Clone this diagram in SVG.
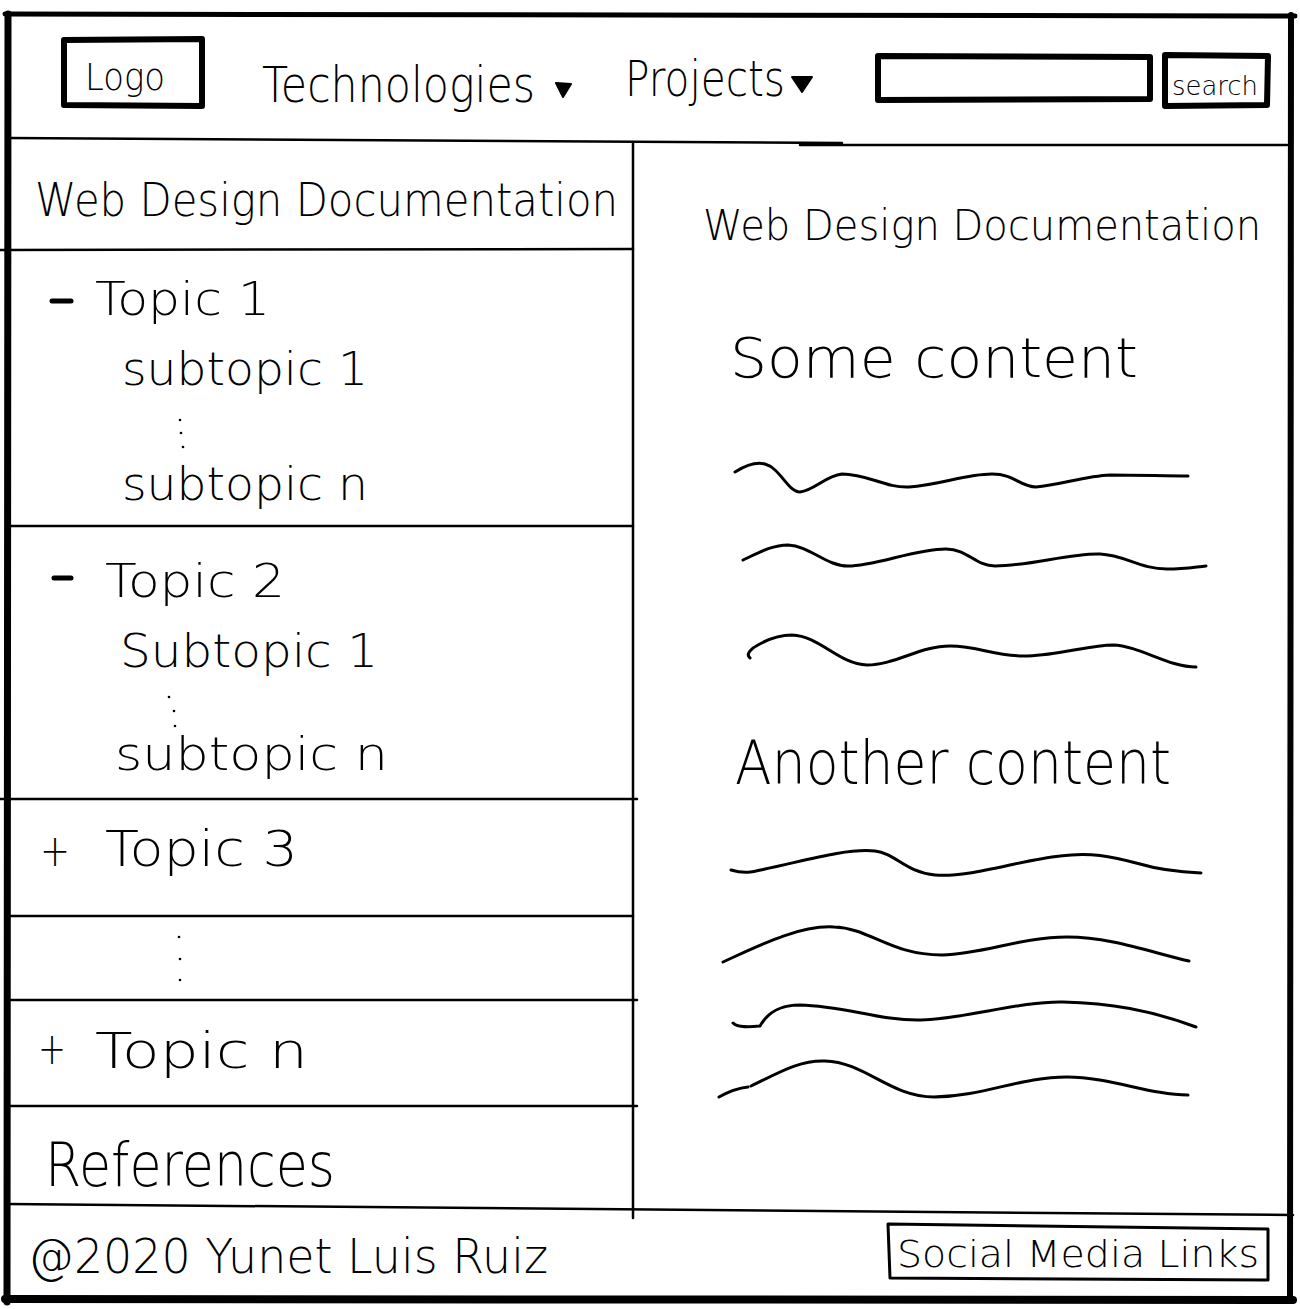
<svg xmlns="http://www.w3.org/2000/svg" width="1300" height="1309" viewBox="0 0 1300 1309">
  <style>
    .ink { fill: none; stroke: #000; stroke-linecap: round; stroke-linejoin: round; }
    .rule { stroke-width: 2.5; }
    .box { stroke-width: 6; }
    .thinbox { stroke-width: 3; }
    .wave { stroke-width: 3; }
    .hand { font-family: "DejaVu Sans", "Liberation Sans", sans-serif; font-weight: 200; fill: #000; }
    .dot { fill: #000; }
  </style>

  <rect x="0" y="0" width="1300" height="1309" fill="#fff"/>

  <!-- page frame and layout rules -->
  <g id="layout">
    <path class="ink" stroke-width="5" d="M5 14 L1295 16"/>
    <path class="ink" stroke-width="7" d="M8 14 L7 1302"/>
    <path class="ink" stroke-width="6" d="M1291 15 L1290 1300"/>
    <path class="ink" stroke-width="8" d="M5 1299 L1293 1300"/>
    <path class="ink rule" d="M8 138 L842 143"/>
    <path class="ink rule" d="M800 145 L1287 145"/>
    <path class="ink rule" d="M633 143 L633 1218"/>
    <path class="ink rule" d="M0 250 L633 249"/>
    <path class="ink rule" d="M8 526 L633 526"/>
    <path class="ink rule" d="M0 799 L637 799"/>
    <path class="ink rule" d="M8 916 L633 916"/>
    <path class="ink rule" d="M8 1000 L637 1000"/>
    <path class="ink rule" d="M8 1106 L637 1106"/>
    <path class="ink rule" d="M7 1204 L1293 1215"/>
  </g>

  <!-- header -->
  <g id="logo">
    <path class="ink box" d="M64 40 L202 39 L202 106 L64 105 Z"/>
    <text class="hand" x="85" y="90" font-size="38" textLength="80" lengthAdjust="spacingAndGlyphs">Logo</text>
  </g>
  <g id="menu-technologies">
    <text class="hand" x="262" y="102" font-size="50" textLength="273" lengthAdjust="spacingAndGlyphs">Technologies</text>
    <path d="M556 83 L571 84 L563 97 Z" fill="#000" stroke="#000" stroke-width="2" stroke-linejoin="round"/>
  </g>
  <g id="menu-projects">
    <text class="hand" x="625" y="96" font-size="50" textLength="160" lengthAdjust="spacingAndGlyphs">Projects</text>
    <path d="M792 77 L812 77 L802 92 Z" fill="#000" stroke="#000" stroke-width="2" stroke-linejoin="round"/>
  </g>
  <g id="search-input">
    <path class="ink box" d="M878 56 L1150 57 L1150 99 L878 100 Z"/>
  </g>
  <g id="search-button">
    <path class="ink box" d="M1165 55 L1268 56 L1267 105 L1165 106 Z"/>
    <text class="hand" x="1172" y="95" font-size="26" textLength="86" lengthAdjust="spacingAndGlyphs">search</text>
  </g>

  <!-- sidebar -->
  <g id="sidebar-title">
    <text class="hand" x="35" y="216" font-size="46" textLength="583" lengthAdjust="spacingAndGlyphs">Web Design Documentation</text>
  </g>
  <g id="topic-1">
    <path class="ink" stroke-width="5" d="M52 301 L71 301"/>
    <text class="hand" x="95" y="315" font-size="46" textLength="175" lengthAdjust="spacingAndGlyphs">Topic 1</text>
    <text class="hand" x="122" y="385" font-size="46" textLength="246" lengthAdjust="spacingAndGlyphs">subtopic 1</text>
    <circle class="dot" cx="180" cy="420" r="1.3"/>
    <circle class="dot" cx="181" cy="433" r="1.3"/>
    <circle class="dot" cx="183" cy="447" r="1.3"/>
    <text class="hand" x="122" y="500" font-size="46" textLength="246" lengthAdjust="spacingAndGlyphs">subtopic n</text>
  </g>
  <g id="topic-2">
    <path class="ink" stroke-width="5" d="M54 578 L71 578"/>
    <text class="hand" x="105" y="597" font-size="46" textLength="180" lengthAdjust="spacingAndGlyphs">Topic 2</text>
    <text class="hand" x="120" y="667" font-size="46" textLength="258" lengthAdjust="spacingAndGlyphs">Subtopic 1</text>
    <circle class="dot" cx="169" cy="697" r="1.3"/>
    <circle class="dot" cx="174" cy="711" r="1.3"/>
    <circle class="dot" cx="175" cy="726" r="1.3"/>
    <text class="hand" x="115" y="770" font-size="46" textLength="273" lengthAdjust="spacingAndGlyphs">subtopic n</text>
  </g>
  <g id="topic-3">
    <text class="hand" x="40" y="866" font-size="44" textLength="30" lengthAdjust="spacingAndGlyphs">+</text>
    <text class="hand" x="105" y="866" font-size="50" textLength="193" lengthAdjust="spacingAndGlyphs">Topic 3</text>
  </g>
  <g id="more-topics">
    <circle class="dot" cx="179" cy="937" r="1.3"/>
    <circle class="dot" cx="180" cy="959" r="1.3"/>
    <circle class="dot" cx="180" cy="980" r="1.3"/>
  </g>
  <g id="topic-n">
    <text class="hand" x="38" y="1064" font-size="44" textLength="28" lengthAdjust="spacingAndGlyphs">+</text>
    <text class="hand" x="95" y="1068" font-size="50" textLength="213" lengthAdjust="spacingAndGlyphs">Topic n</text>
  </g>
  <g id="references">
    <text class="hand" x="45" y="1186" font-size="60" textLength="290" lengthAdjust="spacingAndGlyphs">References</text>
  </g>

  <!-- main content -->
  <g id="content-title">
    <text class="hand" x="703" y="240" font-size="42" textLength="558" lengthAdjust="spacingAndGlyphs">Web Design Documentation</text>
  </g>
  <g id="some-content">
    <text class="hand" x="730" y="377" font-size="56" textLength="408" lengthAdjust="spacingAndGlyphs">Some content</text>
    <path class="ink wave" d="M735 472 C748 464 757 462 765 464 C780 468 788 492 800 492 C815 490 825 476 842 474 C868 474 885 488 909 487 C940 485 965 474 992 474 C1015 474 1020 487 1036 487 C1060 485 1085 476 1110 475 C1140 475 1165 476 1188 476"/>
    <path class="ink wave" d="M743 560 C758 553 772 545 788 545 C810 546 826 566 848 566 C875 566 915 549 946 549 C968 549 975 566 995 566 C1030 566 1070 553 1100 554 C1125 555 1140 569 1167 569 C1185 569 1195 567 1206 566"/>
    <path class="ink wave" d="M750 658 C745 654 752 648 758 645 C770 638 780 635 792 635 C820 636 838 664 867 665 C895 665 920 646 950 646 C980 646 995 657 1028 656 C1060 655 1090 645 1113 645 C1140 646 1168 667 1196 667"/>
  </g>
  <g id="another-content">
    <text class="hand" x="735" y="784" font-size="60" textLength="436" lengthAdjust="spacingAndGlyphs">Another content</text>
    <path class="ink wave" d="M731 870 C745 874 752 872 765 869 C800 862 845 848 875 851 C895 853 905 872 935 875 C970 878 1020 860 1060 856 C1090 852 1110 856 1140 864 C1160 870 1180 872 1201 873"/>
    <path class="ink wave" d="M723 962 C760 945 800 925 834 927 C870 928 890 955 942 955 C985 954 1020 937 1067 937 C1110 937 1150 952 1189 961"/>
    <path class="ink wave" d="M733 1023 C738 1028 750 1027 760 1026 C768 1012 780 1005 800 1005 C845 1006 880 1021 921 1020 C965 1019 1020 1001 1063 1002 C1110 1003 1150 1010 1196 1027"/>
    <path class="ink wave" d="M719 1097 C728 1092 738 1088 748 1087 M751 1086 C780 1072 800 1060 825 1061 C865 1062 890 1097 934 1097 C985 1096 1020 1077 1067 1077 C1110 1077 1150 1095 1188 1095"/>
  </g>

  <!-- footer -->
  <g id="copyright">
    <text class="hand" x="28" y="1273" font-size="48" textLength="520" lengthAdjust="spacingAndGlyphs">@2020 Yunet Luis Ruiz</text>
  </g>
  <g id="social-links">
    <path class="ink thinbox" d="M888 1224 L1268 1229 L1268 1280 L890 1278 Z"/>
    <text class="hand" x="897" y="1267" font-size="38" textLength="362" lengthAdjust="spacingAndGlyphs">Social Media Links</text>
  </g>
</svg>
